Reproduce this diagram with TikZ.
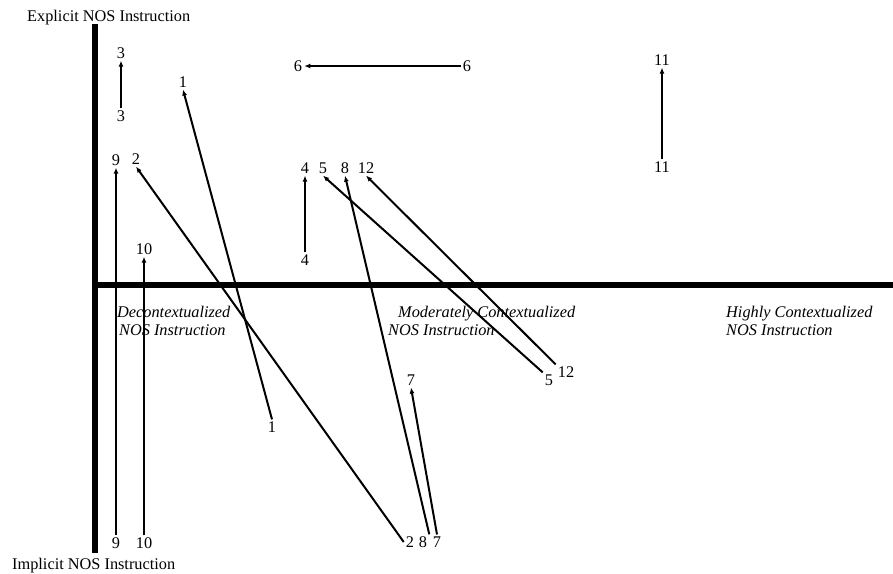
\documentclass[tikz,border=0pt]{standalone}
\usepackage{fontspec}
\setmainfont{Liberation Serif}
\usetikzlibrary{arrows.meta}
\begin{document}
\begin{tikzpicture}[x=1pt,y=-1pt,
  lbl/.style={inner sep=2pt,font=\fontsize{16.3}{19}\selectfont},
  cat/.style={inner sep=0pt,anchor=base west,font=\fontsize{16.3}{19}\selectfont\itshape},
  ttl/.style={inner sep=0pt,anchor=base west,font=\fontsize{16.3}{19}\selectfont},
  axis/.style={line width=6pt},
  mv/.style={line width=2pt,-{Latex[length=6pt,width=5pt]}}]
\useasboundingbox (0,0) rectangle (893,573);
% axes
\coordinate (vtop) at (95,24);
\coordinate (vbot) at (95,553);
\coordinate (horg) at (92,285);
\coordinate (hend) at (893,285);
\draw[axis] (vtop) -- (vbot);
\draw[axis] (horg) -- (hend);
% axis titles
\node[ttl] (explicit) at (27,21) {Explicit NOS Instruction};
\node[ttl] (implicit) at (12,569) {Implicit NOS Instruction};
% category labels
\node[cat] (dec1) at (117,317) {Decontextualized};
\node[cat] (dec2) at (119,335) {NOS Instruction};
\node[cat] (mod1) at (398,317) {Moderately Contextualized};
\node[cat] (mod2) at (388,335) {NOS Instruction};
\node[cat] (hig1) at (726,317) {Highly Contextualized};
\node[cat] (hig2) at (726,335) {NOS Instruction};
% number labels
\node[lbl] (t3) at (121,53) {3};
\node[lbl] (b3) at (121,116) {3};
\node[lbl] (t1) at (183,82) {1};
\node[lbl] (b1) at (272,427) {1};
\node[lbl] (t9) at (116,160) {9};
\node[lbl] (b9) at (116,543) {9};
\node[lbl] (t2) at (136,159) {2};
\node[lbl] (b2) at (410,542) {2};
\node[lbl] (t10) at (144,249) {10};
\node[lbl] (b10) at (144,543) {10};
\node[lbl] (l6) at (298,66) {6};
\node[lbl] (r6) at (467,66) {6};
\node[lbl] (t4) at (305,168) {4};
\node[lbl] (b4) at (305,260) {4};
\node[lbl] (t5) at (323,168) {5};
\node[lbl] (b5) at (549,380) {5};
\node[lbl] (t8) at (345,168) {8};
\node[lbl] (b8) at (423,542) {8};
\node[lbl] (t12) at (366,168) {12};
\node[lbl] (b12) at (566,372) {12};
\node[lbl] (t7) at (411,380) {7};
\node[lbl] (b7) at (437,542) {7};
\node[lbl] (t11) at (662,60) {11};
\node[lbl] (b11) at (662,167) {11};
% movements
\draw[mv] (b3.north) -- (t3.south);
\draw[mv] (b1.north) -- (t1.south);
\draw[mv] (b9.north) -- (t9.south);
\draw[mv] (b2.west) -- (t2.south);
\draw[mv] (b10.north) -- (t10.south);
\draw[mv] (r6.west) -- (l6.east);
\draw[mv] (b4.north) -- (t4.south);
\draw[mv] (b5.north west) -- (t5.south);
\draw[mv] (b8.north east) -- (t8.south);
\draw[mv] (b12.north west) -- (t12.south);
\draw[mv] (b7.north) -- (t7.south);
\draw[mv] (b11.north) -- (t11.south);
\end{tikzpicture}
\end{document}
